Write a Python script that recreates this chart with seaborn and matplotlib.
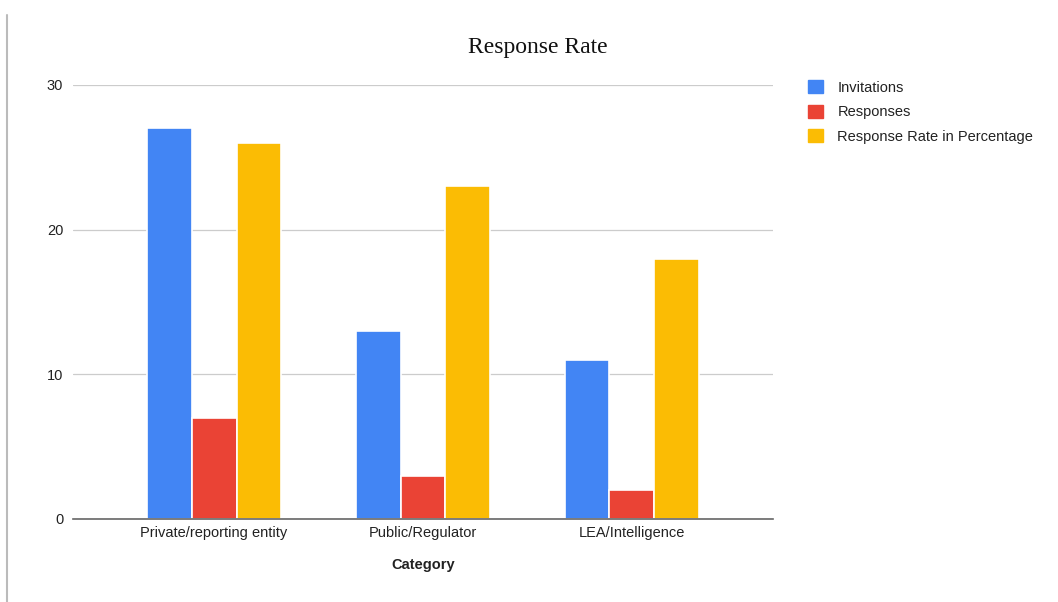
import matplotlib
matplotlib.use("Agg")
import matplotlib.pyplot as plt
import matplotlib.lines as mlines
import seaborn as sns
import pandas as pd

categories = ["Private/reporting entity", "Public/Regulator", "LEA/Intelligence"]
series_names = ["Invitations", "Responses", "Response Rate in Percentage"]
invitations = [27, 13, 11]
responses = [7, 3, 2]
response_rate = [26, 23, 18]
colors = ["#4285F4", "#EA4335", "#FBBC04"]
y_ticks = [0, 10, 20, 30]

rows = []
for name, vals in zip(series_names, [invitations, responses, response_rate]):
    for c, v in zip(categories, vals):
        rows.append({"Category": c, "Series": name, "Value": v})
df = pd.DataFrame(rows)

sns.set_theme(style="white")
plt.rcParams['font.family'] = ['Liberation Sans', 'DejaVu Sans']

fig = plt.figure(figsize=(10.58, 6.02), dpi=100)
ax = fig.add_axes([73/1058, 1-519/602, 700/1058, (519-85)/602])

sns.barplot(data=df, x="Category", y="Value", hue="Series", order=categories,
            hue_order=series_names, palette=colors, width=0.645, ax=ax,
            edgecolor="white", linewidth=1.2, legend=False, saturation=1)

ax.set_xlim(-0.675, 2.675)
ax.set_ylim(0, 30)
ax.set_yticks(y_ticks)
ax.yaxis.grid(True, color="#cccccc", linewidth=0.9)
ax.set_axisbelow(True)
for s in ["top", "right", "left"]:
    ax.spines[s].set_visible(False)
ax.spines["bottom"].set_color("#666666")
ax.spines["bottom"].set_linewidth(1.2)
ax.spines["bottom"].set_zorder(5)
ax.tick_params(axis="both", length=0, labelsize=10.5, labelcolor="#222222")
ax.tick_params(axis="y", pad=7)
ax.tick_params(axis="x", pad=5)
ax.set_ylabel("")
ax.set_xlabel("Category", fontsize=10.5, fontweight="bold", color="#222222", labelpad=13)

fig.text(538/1058, 1-47/602, "Response Rate", ha="center", va="center",
         fontsize=17, family=["Liberation Serif", "DejaVu Serif"], color="#111111")

handles = [plt.Rectangle((0, 0), 1, 1, color=c) for c in colors]
leg = fig.legend(handles, series_names, loc="upper left",
                 bbox_to_anchor=(795/1058, 1-67/602), frameon=False,
                 fontsize=10.5, handlelength=1.0, handleheight=1.0,
                 labelspacing=0.68, handletextpad=1.0)
for t in leg.get_texts():
    t.set_color("#222222")

# left ruler line from screenshot
fig.add_artist(mlines.Line2D([7/1058, 7/1058], [0, 1-15/602], color="#bbbbbb", lw=1.5))

fig.savefig("out.png", dpi=100, facecolor="white")
